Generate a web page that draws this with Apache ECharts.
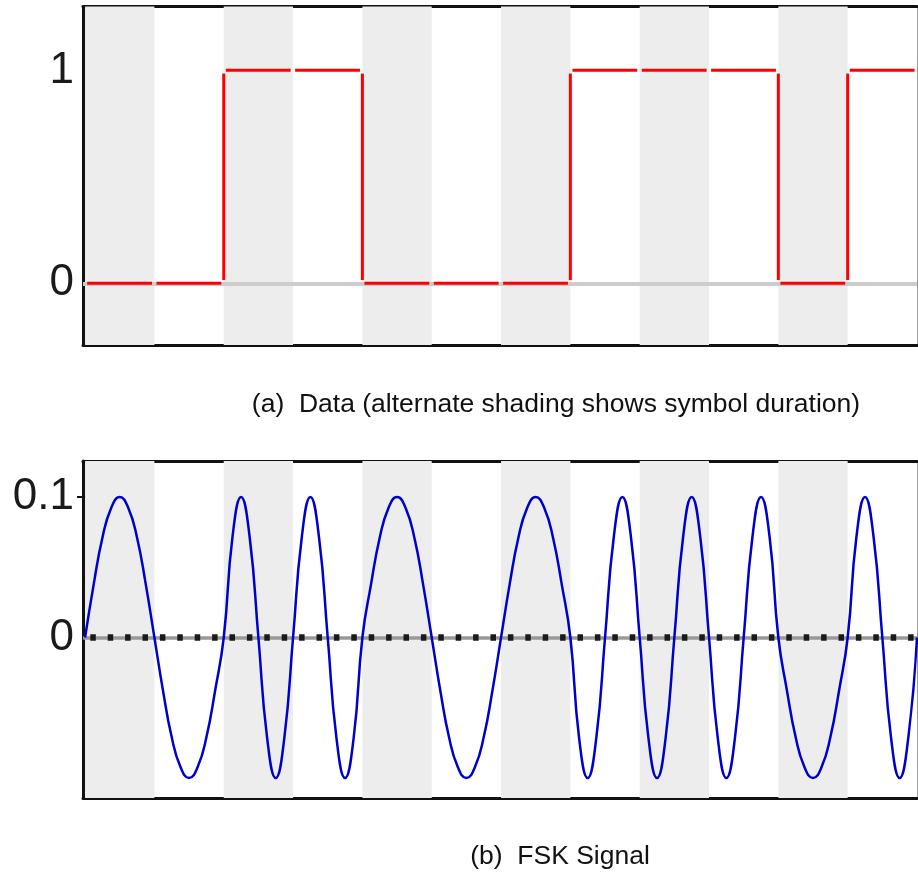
<!DOCTYPE html>
<html>
<head>
<meta charset="utf-8">
<script src="https://cdn.jsdelivr.net/npm/echarts@6/dist/echarts.min.js"></script>
<style>html,body{margin:0;padding:0;background:#fff}#c{width:918px;height:873px}</style>
</head>
<body>
<div id="c"></div>
<script>
// ---- data ----
const bits = [0, 0, 1, 1, 0, 0, 0, 1, 1, 1, 0, 1];
const dataTickLabels = [0, 1];
const fskTickLabels = [0, 0.1];
const fskTickMarks = [0.1];
const sampleStep = 0.125; // symbol durations between samples of the FSK signal
const fsk = [
  0, 0.038, 0.071, 0.092, 0.1, 0.092, 0.071, 0.038,
  0, -0.038, -0.071, -0.092, -0.1, -0.092, -0.071, -0.038,
  0, 0.071, 0.1, 0.071, 0, -0.071, -0.1, -0.071,
  0, 0.071, 0.1, 0.071, 0, -0.071, -0.1, -0.071,
  0, 0.038, 0.071, 0.092, 0.1, 0.092, 0.071, 0.038,
  0, -0.038, -0.071, -0.092, -0.1, -0.092, -0.071, -0.038,
  0, 0.038, 0.071, 0.092, 0.1, 0.092, 0.071, 0.038,
  0, -0.071, -0.1, -0.071, 0, 0.071, 0.1, 0.071,
  0, -0.071, -0.1, -0.071, 0, 0.071, 0.1, 0.071,
  0, -0.071, -0.1, -0.071, 0, 0.071, 0.1, 0.071,
  0, -0.038, -0.071, -0.092, -0.1, -0.092, -0.071, -0.038,
  0, 0.071, 0.1, 0.071, 0, -0.071, -0.1, -0.071,
  0
];
const captionA = '(a)  Data (alternate shading shows symbol duration)';
const captionB = '(b)  FSK Signal';

// ---- derived tables ----
const nSym = bits.length;
const bands = [];
for (let i = 0; i < nSym; i += 2) bands.push([{ xAxis: i }, { xAxis: i + 1 }]);
const stepData = bits.map((b, i) => [i, b, i > 0 ? bits[i - 1] : b]);
const fskData = fsk.map((v, i) => [i * sampleStep, v]);

const FONT = '"Liberation Sans", Arial, Helvetica, sans-serif';
const frame = { show: true, onZero: false, lineStyle: { color: '#111', width: 3 } };
const xMin = -0.03, xMax = 12;

function xAx(grid, pos) {
  return { type: 'value', gridIndex: grid, position: pos, min: xMin, max: xMax,
    axisLine: frame, axisTick: { show: false }, axisLabel: { show: false }, splitLine: { show: false } };
}

const chart = echarts.init(document.getElementById('c'), null, { renderer: 'canvas' });
chart.setOption({
  animation: false,
  backgroundColor: '#fff',
  grid: [
    { left: 83, right: 1, top: 6.5, height: 338.5, outerBoundsMode: 'none' },
    { left: 83, right: 1, top: 461, height: 337, outerBoundsMode: 'none' }
  ],
  xAxis: [xAx(0, 'bottom'), xAx(0, 'top'), xAx(1, 'bottom'), xAx(1, 'top')],
  yAxis: [
    { type: 'value', gridIndex: 0, position: 'left', min: -0.29, max: 1.3,
      axisLine: frame, axisTick: { show: false }, splitLine: { show: false },
      axisLabel: { customValues: dataTickLabels, fontSize: 44, color: '#1a1a1a', fontFamily: FONT, margin: 9 } },
    { type: 'value', gridIndex: 0, position: 'right', min: -0.29, max: 1.3,
      axisLine: { show: true, onZero: false, lineStyle: { color: '#999', width: 1 } },
      axisTick: { show: false }, axisLabel: { show: false }, splitLine: { show: false } },
    { type: 'value', gridIndex: 1, position: 'left', min: -0.1142, max: 0.1256,
      axisLine: frame, splitLine: { show: false },
      axisTick: { show: true, customValues: fskTickMarks, length: 6, lineStyle: { color: '#111', width: 2 } },
      axisLabel: { customValues: fskTickLabels, fontSize: 44, color: '#1a1a1a', fontFamily: FONT, margin: 9,
        formatter: v => String(v) } },
    { type: 'value', gridIndex: 1, position: 'right', min: -0.1142, max: 0.1256,
      axisLine: { show: true, onZero: false, lineStyle: { color: '#999', width: 1 } },
      axisTick: { show: false }, axisLabel: { show: false }, splitLine: { show: false } },
    { type: 'value', gridIndex: 1, position: 'left', min: -0.1142, max: 0.1256,
      axisLine: { show: false }, splitLine: { show: false }, axisLabel: { show: false },
      axisTick: { show: true, inside: true, customValues: fskTickMarks, length: 7, lineStyle: { color: '#111', width: 2 } } }
  ],
  series: [
    // top: shading + zero line
    { type: 'line', xAxisIndex: 0, yAxisIndex: 0, data: [], z: 1, silent: true,
      markArea: { silent: true, itemStyle: { color: '#ededed' }, data: bands },
      markLine: { silent: true, symbol: 'none', label: { show: false },
        lineStyle: { color: '#cccccc', width: 4, type: 'solid' }, data: [{ yAxis: 0 }] } },
    // top: red data segments
    { type: 'custom', xAxisIndex: 0, yAxisIndex: 0, z: 5, silent: true,
      data: stepData, encode: { x: 0, y: 1 },
      renderItem: function (params, api) {
        const i = api.value(0), b = api.value(1), p = api.value(2);
        const a = api.coord([i + 0.03, b]), e = api.coord([i + 0.965, b]);
        const st = { stroke: '#ff0000', lineWidth: 3 };
        const ch = [{ type: 'line', shape: { x1: a[0], y1: a[1], x2: e[0], y2: e[1] }, style: st }];
        if (p !== b) {
          const v0 = api.coord([i, 0.015]), v1 = api.coord([i, 0.985]);
          ch.push({ type: 'line', shape: { x1: v0[0], y1: v0[1], x2: v1[0], y2: v1[1] }, style: st });
        }
        return { type: 'group', children: ch };
      } },
    // bottom: shading + gray zero line
    { type: 'line', xAxisIndex: 2, yAxisIndex: 2, data: [], z: 1, silent: true,
      markArea: { silent: true, itemStyle: { color: '#ededed' }, data: bands },
      markLine: { silent: true, symbol: 'none', label: { show: false },
        lineStyle: { color: '#999999', width: 3.5, type: 'solid' }, data: [{ yAxis: 0 }] } },
    // bottom: dotted zero line
    { type: 'line', xAxisIndex: 2, yAxisIndex: 2, data: [], z: 2, silent: true,
      markLine: { silent: true, symbol: 'none', label: { show: false },
        lineStyle: { color: '#1a1a1a', width: 6.5, type: [5.5, 11.9], dashOffset: 10.1 }, data: [{ yAxis: 0 }] } },
    // bottom: FSK signal
    { type: 'line', xAxisIndex: 2, yAxisIndex: 2, data: fskData, z: 5, smooth: 0.5,
      showSymbol: false, symbol: 'none', lineStyle: { color: '#0000cd', width: 2.5 } }
  ],
  graphic: [
    { type: 'text', x: 556, y: 405, silent: true,
      style: { text: captionA, font: '26.5px ' + FONT, fill: '#111', textAlign: 'center', textVerticalAlign: 'middle' } },
    { type: 'text', x: 560, y: 857, silent: true,
      style: { text: captionB, font: '26.5px ' + FONT, fill: '#111', textAlign: 'center', textVerticalAlign: 'middle' } }
  ]
});
</script>
</body>
</html>
